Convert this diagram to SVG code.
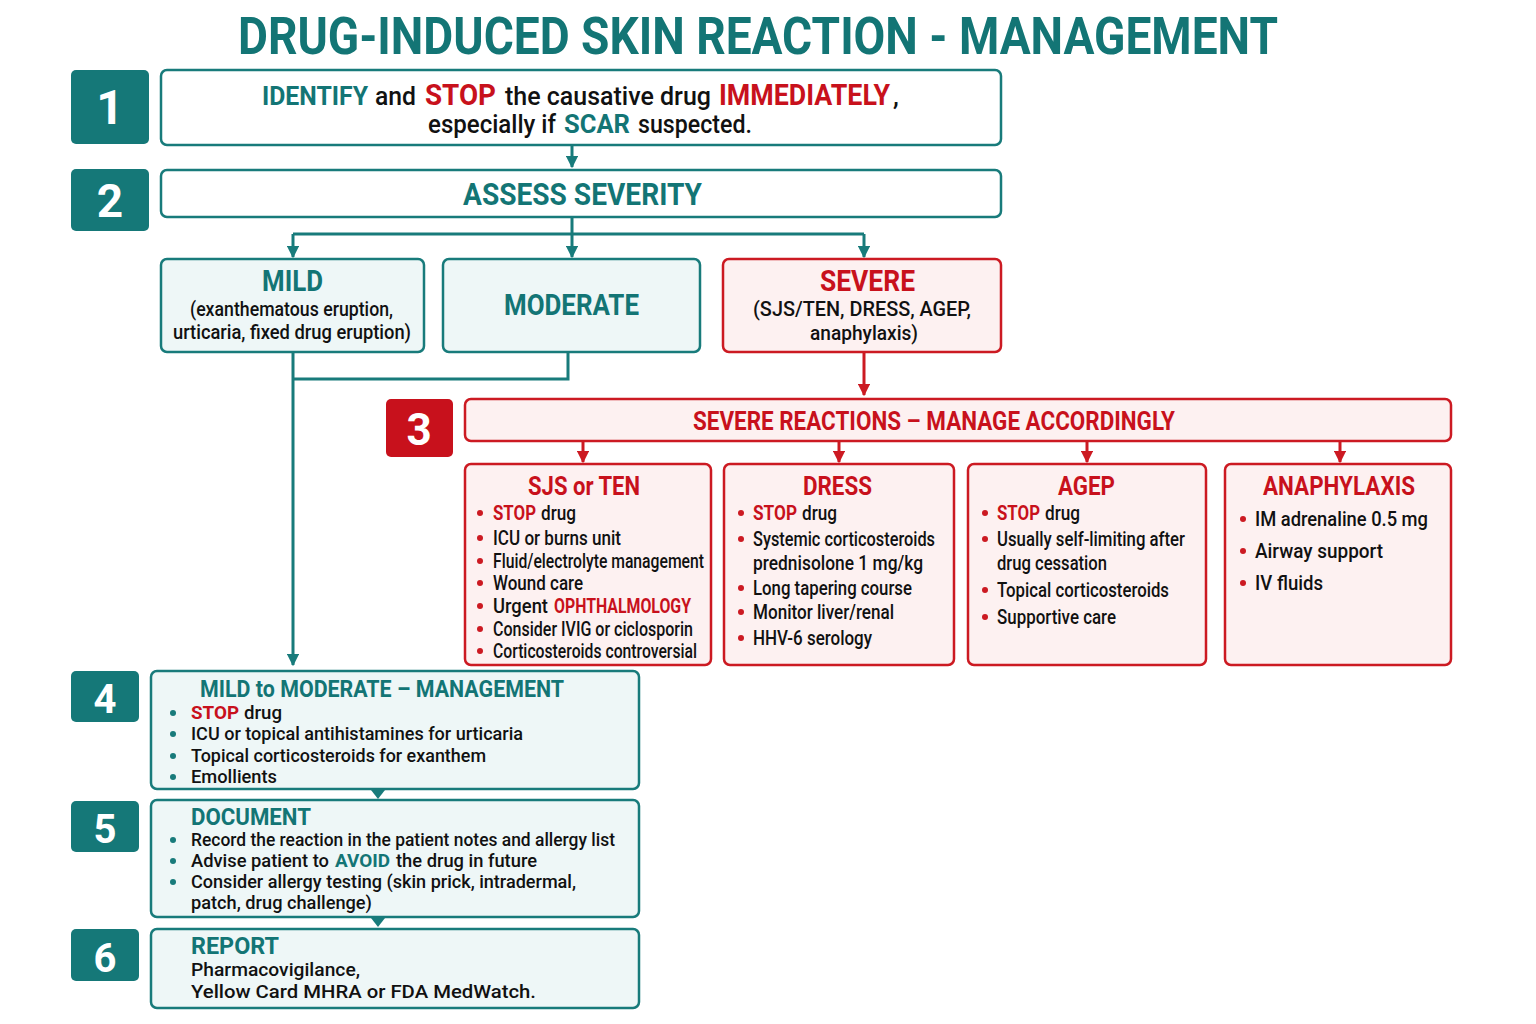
<svg xmlns="http://www.w3.org/2000/svg" width="1536" height="1024" viewBox="0 0 1536 1024">
<defs>
<style>
text{font-family:Roboto,"Noto Sans","Liberation Sans",sans-serif;}
.t{fill:#137575;font-weight:700;}
.r{fill:#c8111c;font-weight:700;}
.k{fill:#111;font-weight:500;}
.badgeT{fill:#157878;}
.badgeR{fill:#c8111c;}
.num{fill:#fff;font-weight:700;text-anchor:middle;}
.boxW{fill:#fff;stroke:#187b7b;stroke-width:2.5;}
.boxT{fill:#eef7f7;stroke:#187b7b;stroke-width:2.5;}
.boxR{fill:#fdf1f1;stroke:#cc1a22;stroke-width:2.5;}
.ct{fill:none;stroke:#187b7b;stroke-width:3;}
.cr{fill:none;stroke:#cc1a22;stroke-width:3;}
.dt{fill:#187b7b;}
.dr{fill:#cc1a22;}
</style>
<marker id="at" viewBox="0 0 10 10" refX="9" refY="5" markerWidth="4.2" markerHeight="4.2" orient="auto" markerUnits="strokeWidth"><path d="M0,0 L10,5 L0,10 z" fill="#187b7b"/></marker>
<marker id="ar" viewBox="0 0 10 10" refX="9" refY="5" markerWidth="4.2" markerHeight="4.2" orient="auto" markerUnits="strokeWidth"><path d="M0,0 L10,5 L0,10 z" fill="#cc1a22"/></marker>
</defs>
<rect width="1536" height="1024" fill="#fff"/>

<text x="238" y="54" class="t" font-size="52" textLength="1040" lengthAdjust="spacingAndGlyphs">DRUG-INDUCED SKIN REACTION - MANAGEMENT</text>

<g id="connectors">
<line x1="572" y1="146" x2="572" y2="167" class="ct" marker-end="url(#at)"/>
<path d="M572,218 V234 M293,234 H864" class="ct"/>
<line x1="293" y1="234" x2="293" y2="257" class="ct" marker-end="url(#at)"/>
<line x1="572" y1="234" x2="572" y2="257" class="ct" marker-end="url(#at)"/>
<line x1="864" y1="234" x2="864" y2="257" class="ct" marker-end="url(#at)"/>
<line x1="293" y1="353" x2="293" y2="665" class="ct" marker-end="url(#at)"/>
<path d="M568,353 V379 H293" class="ct"/>
<line x1="864" y1="353" x2="864" y2="395" class="cr" marker-end="url(#ar)"/>
<line x1="583" y1="442" x2="583" y2="462" class="cr" marker-end="url(#ar)"/>
<line x1="839" y1="442" x2="839" y2="462" class="cr" marker-end="url(#ar)"/>
<line x1="1087" y1="442" x2="1087" y2="462" class="cr" marker-end="url(#ar)"/>
<line x1="1340" y1="442" x2="1340" y2="462" class="cr" marker-end="url(#ar)"/>
<polygon points="371,790 385,790 378,799" class="dt"/>
<polygon points="371,918 385,918 378,927" class="dt"/>
</g>

<g id="step1">
<rect x="71" y="70" width="78" height="74" rx="5" class="badgeT"/>
<text x="110" y="124" class="num" font-size="48">1</text>
<rect x="161" y="70" width="840" height="75" rx="6" class="boxW"/>
<text x="262" y="105" class="t" font-size="26" textLength="106" lengthAdjust="spacingAndGlyphs">IDENTIFY</text>
<text x="375" y="105" class="k" font-size="26" textLength="41" lengthAdjust="spacingAndGlyphs">and</text>
<text x="425" y="105" class="r" font-size="29" textLength="71" lengthAdjust="spacingAndGlyphs">STOP</text>
<text x="505" y="105" class="k" font-size="26" textLength="206" lengthAdjust="spacingAndGlyphs">the causative drug</text>
<text transform="translate(719 105) scale(0.9 1)" class="r" font-size="29" textLength="190" lengthAdjust="spacingAndGlyphs">IMMEDIATELY</text>
<text x="893" y="105" class="k" font-size="26">,</text>
<text x="428" y="133" class="k" font-size="26" textLength="128" lengthAdjust="spacingAndGlyphs">especially if</text>
<text x="564" y="133" class="t" font-size="26" textLength="66" lengthAdjust="spacingAndGlyphs">SCAR</text>
<text x="638" y="133" class="k" font-size="26" textLength="114" lengthAdjust="spacingAndGlyphs">suspected.</text>
</g>

<g id="step2">
<rect x="71" y="169" width="78" height="62" rx="5" class="badgeT"/>
<text x="110" y="217" class="num" font-size="46">2</text>
<rect x="161" y="170" width="840" height="47" rx="6" class="boxW"/>
<text x="463" y="205" class="t" font-size="31" textLength="239" lengthAdjust="spacingAndGlyphs">ASSESS SEVERITY</text>
</g>

<g id="mild">
<rect x="161" y="259" width="263" height="93" rx="6" class="boxT"/>
<text x="262" y="291" class="t" font-size="29" textLength="61" lengthAdjust="spacingAndGlyphs">MILD</text>
<text x="190" y="316" class="k" font-size="21" textLength="203" lengthAdjust="spacingAndGlyphs">(exanthematous eruption,</text>
<text x="173" y="339" class="k" font-size="21" textLength="238" lengthAdjust="spacingAndGlyphs">urticaria, fixed drug eruption)</text>
</g>

<g id="moderate">
<rect x="443" y="259" width="257" height="93" rx="6" class="boxT"/>
<text x="504" y="315" class="t" font-size="29" textLength="135" lengthAdjust="spacingAndGlyphs">MODERATE</text>
</g>

<g id="severe">
<rect x="723" y="259" width="278" height="93" rx="6" class="boxR"/>
<text x="820" y="291" class="r" font-size="29" textLength="95" lengthAdjust="spacingAndGlyphs">SEVERE</text>
<text x="753" y="316" class="k" font-size="21" textLength="218" lengthAdjust="spacingAndGlyphs">(SJS/TEN, DRESS, AGEP,</text>
<text x="810" y="340" class="k" font-size="21" textLength="108" lengthAdjust="spacingAndGlyphs">anaphylaxis)</text>
</g>

<g id="step3">
<rect x="386" y="399" width="67" height="58" rx="5" class="badgeR"/>
<text x="419" y="445" class="num" font-size="44">3</text>
<rect x="465" y="399" width="986" height="42" rx="6" class="boxR"/>
<text x="693" y="430" class="r" font-size="26" textLength="482" lengthAdjust="spacingAndGlyphs">SEVERE REACTIONS – MANAGE ACCORDINGLY</text>
</g>

<g id="sjs">
<rect x="465" y="464" width="246" height="201" rx="6" class="boxR"/>
<text x="528" y="495" class="r" font-size="26" textLength="112" lengthAdjust="spacingAndGlyphs">SJS or TEN</text>
<g class="dr"><circle cx="480" cy="513" r="3"/><circle cx="480" cy="538" r="3"/><circle cx="480" cy="561" r="3"/><circle cx="480" cy="583" r="3"/><circle cx="480" cy="606" r="3"/><circle cx="480" cy="629" r="3"/><circle cx="480" cy="651" r="3"/></g>
<text x="493" y="520" class="r" font-size="20" textLength="43" lengthAdjust="spacingAndGlyphs">STOP</text>
<text x="541" y="520" class="k" font-size="20" textLength="35" lengthAdjust="spacingAndGlyphs">drug</text>
<text x="493" y="545" class="k" font-size="20" textLength="128" lengthAdjust="spacingAndGlyphs">ICU or burns unit</text>
<text x="493" y="568" class="k" font-size="20" textLength="211" lengthAdjust="spacingAndGlyphs">Fluid/electrolyte management</text>
<text x="493" y="590" class="k" font-size="20" textLength="90" lengthAdjust="spacingAndGlyphs">Wound care</text>
<text x="493" y="613" class="k" font-size="20" textLength="55" lengthAdjust="spacingAndGlyphs">Urgent</text>
<text x="554" y="613" class="r" font-size="20" textLength="137" lengthAdjust="spacingAndGlyphs">OPHTHALMOLOGY</text>
<text x="493" y="636" class="k" font-size="20" textLength="200" lengthAdjust="spacingAndGlyphs">Consider IVIG or ciclosporin</text>
<text x="493" y="658" class="k" font-size="20" textLength="204" lengthAdjust="spacingAndGlyphs">Corticosteroids controversial</text>
</g>

<g id="dress">
<rect x="724" y="464" width="230" height="201" rx="6" class="boxR"/>
<text x="803" y="495" class="r" font-size="26" textLength="69" lengthAdjust="spacingAndGlyphs">DRESS</text>
<g class="dr"><circle cx="741" cy="513" r="3"/><circle cx="741" cy="539" r="3"/><circle cx="741" cy="588" r="3"/><circle cx="741" cy="612" r="3"/><circle cx="741" cy="638" r="3"/></g>
<text x="753" y="520" class="r" font-size="20" textLength="44" lengthAdjust="spacingAndGlyphs">STOP</text>
<text x="802" y="520" class="k" font-size="20" textLength="35" lengthAdjust="spacingAndGlyphs">drug</text>
<text x="753" y="546" class="k" font-size="20" textLength="182" lengthAdjust="spacingAndGlyphs">Systemic corticosteroids</text>
<text x="753" y="570" class="k" font-size="20" textLength="170" lengthAdjust="spacingAndGlyphs">prednisolone 1 mg/kg</text>
<text x="753" y="595" class="k" font-size="20" textLength="159" lengthAdjust="spacingAndGlyphs">Long tapering course</text>
<text x="753" y="619" class="k" font-size="20" textLength="141" lengthAdjust="spacingAndGlyphs">Monitor liver/renal</text>
<text x="753" y="645" class="k" font-size="20" textLength="119" lengthAdjust="spacingAndGlyphs">HHV-6 serology</text>
</g>

<g id="agep">
<rect x="968" y="464" width="238" height="201" rx="6" class="boxR"/>
<text x="1058" y="495" class="r" font-size="26" textLength="57" lengthAdjust="spacingAndGlyphs">AGEP</text>
<g class="dr"><circle cx="985" cy="513" r="3"/><circle cx="985" cy="539" r="3"/><circle cx="985" cy="590" r="3"/><circle cx="985" cy="617" r="3"/></g>
<text x="997" y="520" class="r" font-size="20" textLength="43" lengthAdjust="spacingAndGlyphs">STOP</text>
<text x="1045" y="520" class="k" font-size="20" textLength="35" lengthAdjust="spacingAndGlyphs">drug</text>
<text x="997" y="546" class="k" font-size="20" textLength="188" lengthAdjust="spacingAndGlyphs">Usually self-limiting after</text>
<text x="997" y="570" class="k" font-size="20" textLength="110" lengthAdjust="spacingAndGlyphs">drug cessation</text>
<text x="997" y="597" class="k" font-size="20" textLength="172" lengthAdjust="spacingAndGlyphs">Topical corticosteroids</text>
<text x="997" y="624" class="k" font-size="20" textLength="119" lengthAdjust="spacingAndGlyphs">Supportive care</text>
</g>

<g id="anaphylaxis">
<rect x="1225" y="464" width="226" height="201" rx="6" class="boxR"/>
<text x="1263" y="495" class="r" font-size="26" textLength="152" lengthAdjust="spacingAndGlyphs">ANAPHYLAXIS</text>
<g class="dr"><circle cx="1243" cy="519" r="3"/><circle cx="1243" cy="551" r="3"/><circle cx="1243" cy="583" r="3"/></g>
<text x="1255" y="526" class="k" font-size="21" textLength="173" lengthAdjust="spacingAndGlyphs">IM adrenaline 0.5 mg</text>
<text x="1255" y="558" class="k" font-size="21" textLength="128" lengthAdjust="spacingAndGlyphs">Airway support</text>
<text x="1255" y="590" class="k" font-size="21" textLength="68" lengthAdjust="spacingAndGlyphs">IV fluids</text>
</g>

<g id="step4">
<rect x="71" y="671" width="68" height="51" rx="5" class="badgeT"/>
<text x="105" y="713" class="num" font-size="40">4</text>
<rect x="151" y="671" width="488" height="118" rx="6" class="boxT"/>
<text x="200" y="697" class="t" font-size="24" textLength="364" lengthAdjust="spacingAndGlyphs">MILD to MODERATE – MANAGEMENT</text>
<g class="dt"><circle cx="173" cy="713" r="3"/><circle cx="173" cy="734" r="3"/><circle cx="173" cy="756" r="3"/><circle cx="173" cy="777" r="3"/></g>
<text x="191" y="719" class="r" font-size="19" textLength="48" lengthAdjust="spacingAndGlyphs">STOP</text>
<text x="244" y="719" class="k" font-size="19" textLength="38" lengthAdjust="spacingAndGlyphs">drug</text>
<text x="191" y="740" class="k" font-size="19" textLength="332" lengthAdjust="spacingAndGlyphs">ICU or topical antihistamines for urticaria</text>
<text x="191" y="762" class="k" font-size="19" textLength="295" lengthAdjust="spacingAndGlyphs">Topical corticosteroids for exanthem</text>
<text x="191" y="783" class="k" font-size="19" textLength="86" lengthAdjust="spacingAndGlyphs">Emollients</text>
</g>

<g id="step5">
<rect x="71" y="801" width="68" height="51" rx="5" class="badgeT"/>
<text x="105" y="843" class="num" font-size="40">5</text>
<rect x="151" y="800" width="488" height="117" rx="6" class="boxT"/>
<text x="191" y="825" class="t" font-size="24" textLength="120" lengthAdjust="spacingAndGlyphs">DOCUMENT</text>
<g class="dt"><circle cx="173" cy="840" r="3"/><circle cx="173" cy="861" r="3"/><circle cx="173" cy="882" r="3"/></g>
<text x="191" y="846" class="k" font-size="19" textLength="424" lengthAdjust="spacingAndGlyphs">Record the reaction in the patient notes and allergy list</text>
<text x="191" y="867" class="k" font-size="19" textLength="138" lengthAdjust="spacingAndGlyphs">Advise patient to</text>
<text x="335" y="867" class="t" font-size="19" textLength="55" lengthAdjust="spacingAndGlyphs">AVOID</text>
<text x="396" y="867" class="k" font-size="19" textLength="141" lengthAdjust="spacingAndGlyphs">the drug in future</text>
<text x="191" y="888" class="k" font-size="19" textLength="385" lengthAdjust="spacingAndGlyphs">Consider allergy testing (skin prick, intradermal,</text>
<text x="191" y="909" class="k" font-size="19" textLength="181" lengthAdjust="spacingAndGlyphs">patch, drug challenge)</text>
</g>

<g id="step6">
<rect x="71" y="929" width="68" height="52" rx="5" class="badgeT"/>
<text x="105" y="972" class="num" font-size="40">6</text>
<rect x="151" y="929" width="488" height="79" rx="6" class="boxT"/>
<text x="191" y="954" class="t" font-size="24" textLength="88" lengthAdjust="spacingAndGlyphs">REPORT</text>
<text x="191" y="976" class="k" font-size="19" textLength="169" lengthAdjust="spacingAndGlyphs">Pharmacovigilance,</text>
<text x="191" y="998" class="k" font-size="19" textLength="345" lengthAdjust="spacingAndGlyphs">Yellow Card MHRA or FDA MedWatch.</text>
</g>
</svg>
